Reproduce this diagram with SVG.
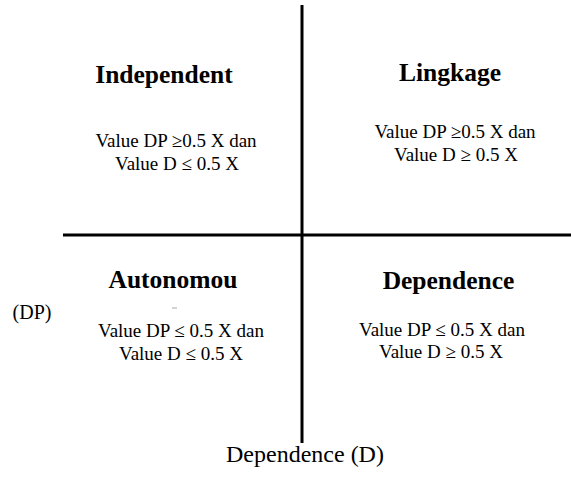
<svg xmlns="http://www.w3.org/2000/svg" width="571" height="485" viewBox="0 0 571 485">
<style>
text{font-family:"Liberation Serif","Times New Roman",serif;fill:#000;text-anchor:middle}
.t{font-size:25.5px;font-weight:bold}
.v{font-size:19px}
.ax{font-size:20px}
.axis{stroke:#000;stroke-width:3;fill:none}
</style>
<rect width="571" height="485" fill="#fff"/>
<g id="axes">
<line class="axis" x1="302" y1="5" x2="302" y2="443"/>
<line class="axis" x1="63" y1="235" x2="571" y2="235"/>
</g>
<g id="independent">
<text class="t" x="164" y="83">Independent</text>
<text class="v" x="176" y="147">Value DP ≥0.5 X dan</text>
<text class="v" x="177" y="170">Value D ≤ 0.5 X</text>
</g>
<g id="lingkage">
<text class="t" x="450" y="81">Lingkage</text>
<text class="v" x="455" y="138">Value DP ≥0.5 X dan</text>
<text class="v" x="456" y="161">Value D ≥ 0.5 X</text>
</g>
<g id="autonomou">
<text class="t" x="173" y="288">Autonomou</text>
<line x1="172" y1="308" x2="177" y2="308" stroke="#aaa" stroke-width="1"/>
<text class="v" x="181" y="337">Value DP ≤ 0.5 X dan</text>
<text class="v" x="181" y="360">Value D ≤ 0.5 X</text>
</g>
<g id="dependence">
<text class="t" x="448.5" y="289">Dependence</text>
<text class="v" x="442" y="336">Value DP ≤ 0.5 X dan</text>
<text class="v" x="441" y="358">Value D ≥ 0.5 X</text>
</g>
<g id="labels">
<text class="ax" x="32" y="319">(DP)</text>
<text style="font-size:24px" x="305" y="462">Dependence (D)</text>
</g>
</svg>
